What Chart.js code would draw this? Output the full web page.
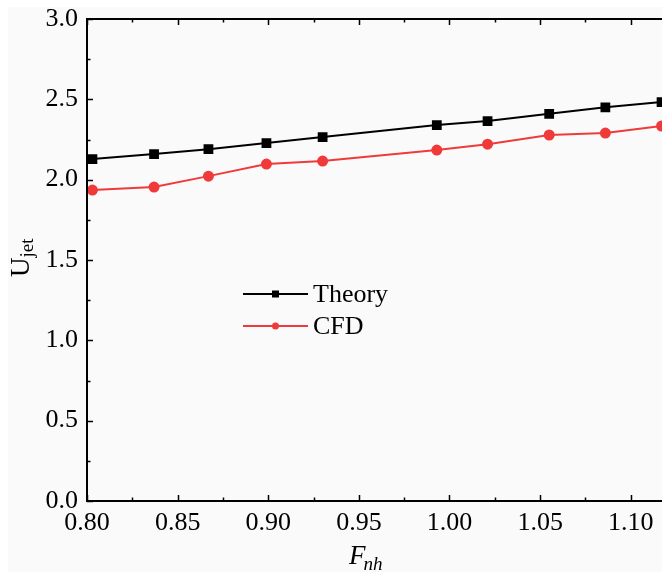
<!DOCTYPE html>
<html>
<head>
<meta charset="utf-8">
<script src="https://cdn.jsdelivr.net/npm/chart.js@4"></script>
<style>
  html, body { margin: 0; padding: 0; background: #fff; overflow: hidden; }
  #wrap { width: 670px; height: 572px; }
</style>
</head>
<body>
<div id="wrap"><canvas id="chart"></canvas></div>
<script>
// data
const fnh = [0.803, 0.837, 0.867, 0.899, 0.930, 0.993, 1.021, 1.055, 1.086, 1.117];
const theory = [2.128, 2.159, 2.190, 2.228, 2.265, 2.340, 2.365, 2.410, 2.450, 2.483];
const cfd = [1.935, 1.954, 2.022, 2.097, 2.116, 2.184, 2.221, 2.278, 2.290, 2.334];

const xTicks = [0.80, 0.85, 0.90, 0.95, 1.00, 1.05, 1.10];
const yTicks = [0.0, 0.5, 1.0, 1.5, 2.0, 2.5, 3.0];

const serif = "'Liberation Serif', 'Times New Roman', serif";
const red = "#f03a3a";

const toPoints = (ys) => ys.map((y, i) => ({ x: fnh[i], y: y }));

// light grey figure background with a thin white strip top/left
const bgPlugin = {
  id: "bg",
  beforeDraw(chart) {
    const c = chart.ctx;
    c.save();
    c.fillStyle = "#fafafa";
    c.fillRect(8, 7, chart.width, chart.height);
    c.restore();
  },
};

// axes box, inward ticks, axis titles and the legend
const framePlugin = {
  id: "frame",
  afterDraw(chart) {
    const c = chart.ctx;
    const a = chart.chartArea;
    const xs = chart.scales.x;
    const ys = chart.scales.y;
    c.save();
    c.strokeStyle = "#000";
    c.lineWidth = 2;
    c.strokeRect(a.left, a.top, a.right - a.left, a.bottom - a.top);

    c.lineWidth = 1.5;
    c.beginPath();
    // x ticks every 0.025, major every 0.05
    for (let k = 0; k <= 14; k++) {
      const v = 0.8 + k * 0.025;
      const px = Math.round(xs.getPixelForValue(v)) + 0.5;
      const len = k % 2 === 0 ? 6 : 3.5;
      c.moveTo(px, a.bottom);
      c.lineTo(px, a.bottom - len);
      c.moveTo(px, a.top);
      c.lineTo(px, a.top + len);
    }
    // y ticks every 0.25, major every 0.5 (right side is cut off)
    for (let k = 0; k <= 12; k++) {
      const v = k * 0.25;
      const py = Math.round(ys.getPixelForValue(v)) + 0.5;
      const len = k % 2 === 0 ? 6 : 3.5;
      c.moveTo(a.left, py);
      c.lineTo(a.left + len, py);
    }
    c.stroke();

    // x title: F_nh (italic)
    c.fillStyle = "#000";
    c.textBaseline = "alphabetic";
    c.font = "italic 27px " + serif;
    c.fillText("F", 349, 564);
    const fw = c.measureText("F").width;
    c.font = "italic 19px " + serif;
    c.fillText("nh", 349 + fw - 2, 570);

    // y title: U_jet rotated
    c.save();
    c.translate(29, 277);
    c.rotate(-Math.PI / 2);
    c.font = "27px " + serif;
    c.fillText("U", 0, 0);
    const uw = c.measureText("U").width;
    c.font = "19px " + serif;
    c.fillText("jet", uw, 4);
    c.restore();

    // legend
    const items = [
      { label: "Theory", color: "#000", style: "rect", y: 294 },
      { label: "CFD", color: red, style: "circle", y: 326 },
    ];
    items.forEach((it) => {
      c.strokeStyle = it.color;
      c.fillStyle = it.color;
      c.lineWidth = 2;
      c.beginPath();
      c.moveTo(243, it.y);
      c.lineTo(308, it.y);
      c.stroke();
      if (it.style === "rect") {
        c.fillRect(272, it.y - 3.5, 7, 7);
      } else {
        c.beginPath();
        c.arc(275.5, it.y, 3.5, 0, Math.PI * 2);
        c.fill();
      }
      c.fillStyle = "#000";
      c.font = "26px " + serif;
      c.textBaseline = "middle";
      c.fillText(it.label, 313, it.y + 1);
    });
    c.restore();
  },
};

new Chart(document.getElementById("chart"), {
  type: "line",
  data: {
    datasets: [
      {
        label: "Theory",
        data: toPoints(theory),
        borderColor: "#000",
        backgroundColor: "#000",
        borderWidth: 2,
        pointStyle: "rect",
        pointRadius: 5.5,
        pointHoverRadius: 5.5,
        tension: 0,
        clip: false,
      },
      {
        label: "CFD",
        data: toPoints(cfd),
        borderColor: red,
        backgroundColor: red,
        borderWidth: 2,
        pointStyle: "circle",
        pointRadius: 4.5,
        pointHoverRadius: 4.5,
        tension: 0,
        clip: false,
      },
    ],
  },
  options: {
    responsive: true,
    maintainAspectRatio: false,
    animation: false,
    events: [],
    layout: { autoPadding: false, padding: { left: 27, top: 19, right: 3, bottom: 1 } },
    plugins: { legend: { display: false }, tooltip: { enabled: false } },
    scales: {
      x: {
        type: "linear",
        min: 0.8,
        max: 1.12,
        afterBuildTicks: (scale) => { scale.ticks = xTicks.map((v) => ({ value: v })); },
        afterFit: (scale) => {
          scale.height = 70;
          scale.paddingLeft = 0;
          scale.paddingRight = 0;
        },
        grid: { display: false, drawTicks: false },
        border: { display: false },
        ticks: {
          padding: 7,
          color: "#000",
          font: { family: serif, size: 26 },
          maxRotation: 0,
          callback: (v) => v.toFixed(2),
        },
      },
      y: {
        min: 0,
        max: 3,
        afterBuildTicks: (scale) => { scale.ticks = yTicks.map((v) => ({ value: v })); },
        afterFit: (scale) => {
          scale.width = 60;
          scale.paddingTop = 0;
          scale.paddingBottom = 0;
        },
        grid: { display: false, drawTicks: false },
        border: { display: false },
        ticks: {
          padding: 9,
          color: "#000",
          font: { family: serif, size: 26 },
          callback: (v) => v.toFixed(1),
        },
      },
    },
  },
  plugins: [bgPlugin, framePlugin],
});
</script>
</body>
</html>
